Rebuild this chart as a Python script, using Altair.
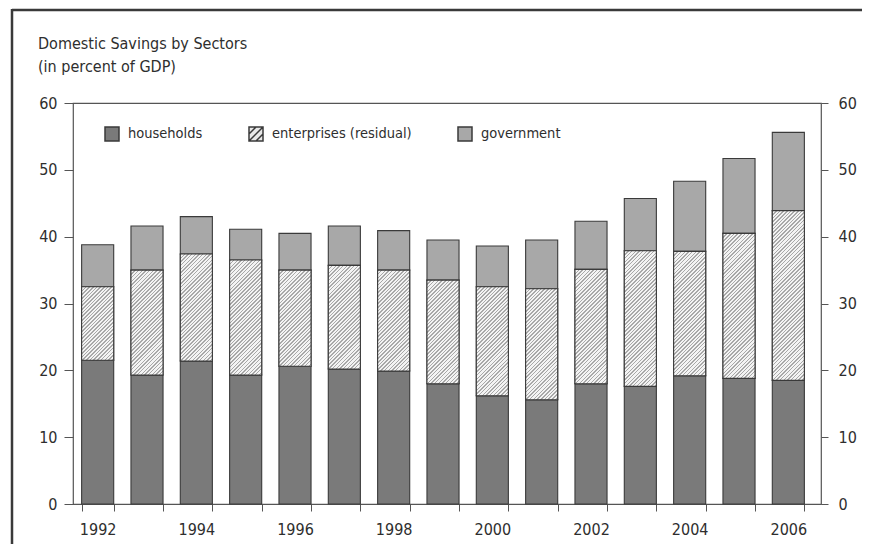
import math
import altair as alt
import pandas as pd

# ---------------- data ----------------
years = [1992, 1993, 1994, 1995, 1996, 1997, 1998, 1999, 2000,
         2001, 2002, 2003, 2004, 2005, 2006]
households = [21.5, 19.3, 21.4, 19.3, 20.6, 20.2, 19.9, 18.0, 16.2,
              15.6, 18.0, 17.6, 19.2, 18.8, 18.5]
enterprises = [11.0, 15.7, 16.0, 17.2, 14.4, 15.5, 15.1, 15.5, 16.3,
               16.6, 17.1, 20.3, 18.6, 21.7, 25.4]
government = [6.3, 6.6, 5.6, 4.6, 5.5, 5.9, 5.9, 6.0, 6.1,
              7.3, 7.2, 7.8, 10.5, 11.2, 11.7]
sectors = ["households", "enterprises (residual)", "government"]
y_ticks = [0, 10, 20, 30, 40, 50, 60]
title_lines = ["Domestic Savings by Sectors", "(in percent of GDP)"]

# ---------------- styles ----------------
FONT = "DejaVu Sans Condensed, DejaVu Sans, sans-serif"
TEXT = "#2e2e2e"
LINE = "#555555"
BAR_STROKE = "#3a3a3a"
sector_colors = ["#7a7a7a", "#e8e8e8", "#a8a8a8"]
HATCH_DARK = "#a8a8a8"
HATCH_LIGHT = "#f3f3f3"

PLOT_W, PLOT_H = 748, 401
X_RANGE = 740
PAD_IN, PAD_OUT = 0.35, 0.175
Y_MAX = 60

# ---------------- table ----------------
rows = []
for i, yr in enumerate(years):
    lo = 0.0
    for s, vals in zip(sectors, [households, enterprises, government]):
        v = vals[i]
        rows.append({"year": str(yr), "sector": s, "value": v,
                     "lower": round(lo, 2), "upper": round(lo + v, 2)})
        lo += v
df = pd.DataFrame(rows)

# ---------------- hatch gradients (one per enterprise segment) ----------------
step = X_RANGE / (len(years) - PAD_IN + 2 * PAD_OUT)
bar_w = step * (1 - PAD_IN)


def hatch(h_px, w_px, period=2.6, dark=1.1):
    k = (w_px + h_px) / (w_px ** 2 + h_px ** 2)
    total = (w_px + h_px) / math.sqrt(2)
    n = int(total / period) + 1
    stops = []
    for j in range(n):
        o0 = min(j * period / total, 1)
        o1 = min((j * period + dark) / total, 1)
        o2 = min((j + 1) * period / total, 1)
        stops += [{"offset": round(o0, 5), "color": HATCH_DARK},
                  {"offset": round(o1, 5), "color": HATCH_DARK},
                  {"offset": round(o1, 5), "color": HATCH_LIGHT},
                  {"offset": round(o2, 5), "color": HATCH_LIGHT}]
    return {"gradient": "linear", "x1": 0, "y1": 0,
            "x2": round(w_px * k, 5), "y2": round(h_px * k, 5), "stops": stops}


conds = []
for yr, v in zip(years, enterprises):
    conds.append({"test": f"datum.year == '{yr}'",
                  "value": hatch(v * PLOT_H / Y_MAX, bar_w)})

# ---------------- legend symbol paths ----------------
sq = "M-1,-1H1V1H-1Z"
hatched = "M-1,-1H1V1H-1Z M-1,0L0,-1 M-1,1L1,-1 M0,1L1,0"

# ---------------- shared encodings ----------------
x_enc = alt.X("year:O",
              scale=alt.Scale(range=[0, X_RANGE], paddingInner=PAD_IN, paddingOuter=PAD_OUT),
              axis=alt.Axis(title=None, labelAngle=0, domain=False, tickBand="extent",
                            labelExpr="parseInt(datum.value) % 2 == 0 ? datum.label : ''",
                            labelOverlap=False, tickSize=7, labelPadding=10))
y_scale = alt.Scale(domain=[0, Y_MAX], nice=False)
color_scale = alt.Scale(domain=sectors, range=sector_colors)

legend = alt.Legend(title=None, orient="none", direction="horizontal",
                    legendX=31, legendY=23, symbolSize=196,
                    symbolOpacity=1, labelFontSize=14.5, labelLimit=400,
                    labelFont=FONT, labelColor=TEXT, labelOffset=8, columnPadding=43,
                    padding=0)

base = alt.Chart(df).mark_bar(stroke=BAR_STROKE, strokeWidth=1.1).encode(
    x=x_enc,
    y=alt.Y("lower:Q", scale=y_scale,
            axis=alt.Axis(title=None, values=y_ticks, orient="left", tickSize=9,
                          labelPadding=7, domain=False)),
    y2="upper:Q",
    color=alt.Color("sector:N", scale=color_scale, legend=legend),
)

hatch_layer = alt.Chart(df).transform_filter(
    alt.datum.sector == "enterprises (residual)"
).mark_bar(stroke=BAR_STROKE, strokeWidth=1.1).encode(
    x=x_enc,
    y=alt.Y("lower:Q", scale=y_scale,
            axis=alt.Axis(title=None, values=y_ticks, orient="right", tickSize=7,
                          labelPadding=10, domain=False)),
    y2="upper:Q",
    fill={"condition": conds, "value": HATCH_LIGHT},
)

# invisible points that give the legend its symbol shapes
legend_layer = alt.Chart(pd.DataFrame({"sector": sectors})).mark_point(
    filled=True, opacity=0
).encode(
    color=alt.Color("sector:N", scale=color_scale, legend=legend),
    shape=alt.Shape("sector:N", scale=alt.Scale(domain=sectors, range=[sq, hatched, sq]),
                    legend=legend),
)

frame_df = pd.DataFrame({"k": [0]})
frame_top = alt.Chart(frame_df).mark_rule(color="#3a3a3a", strokeWidth=2.5).encode(
    x=alt.value(-61), x2=alt.value(820), y=alt.value(-93))
frame_left = alt.Chart(frame_df).mark_rule(color="#3a3a3a", strokeWidth=2.5).encode(
    x=alt.value(-61), y=alt.value(-94), y2=alt.value(460))

chart = alt.layer(base, hatch_layer, legend_layer, frame_top, frame_left).resolve_axis(
    y="independent"
).properties(
    width=PLOT_W, height=PLOT_H,
    autosize=alt.AutoSizeParams(type="none"),
    padding={"left": 65, "top": 95, "right": 41, "bottom": 40},
    title=alt.TitleParams(text=title_lines, anchor="start", frame="group", dx=-35,
                          fontSize=16, font=FONT, fontWeight="normal", color=TEXT,
                          lineHeight=23, offset=-67),
).configure_view(
    stroke=LINE, strokeWidth=1.2
).configure_axis(
    labelFont=FONT, labelFontSize=16, labelColor=TEXT, tickColor=LINE,
    domainColor=LINE, grid=False
)

chart.save("out.html", embed_options={"renderer": "svg", "actions": False})
